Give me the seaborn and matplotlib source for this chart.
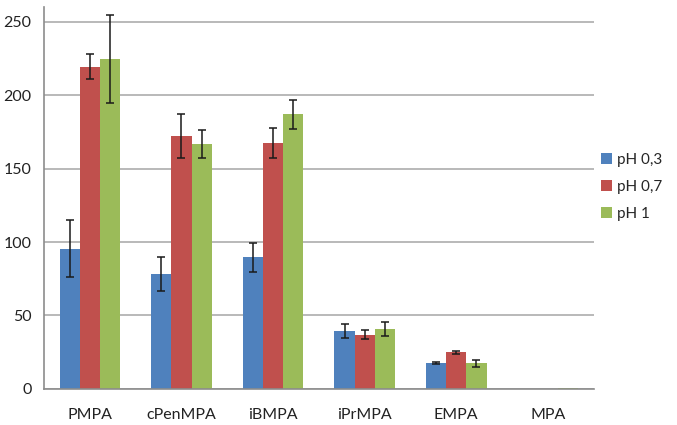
import numpy as np
import pandas as pd
import matplotlib
matplotlib.use("Agg")
import matplotlib.pyplot as plt
import seaborn as sns

categories = ["PMPA", "cPenMPA", "iBMPA", "iPrMPA", "EMPA", "MPA"]
series = ["pH 0,3", "pH 0,7", "pH 1"]
ph03 = [95.5, 78.5, 89.5, 39.5, 17.5, 0.0]
ph07 = [219.5, 172.5, 167.5, 37.0, 24.8, 0.0]
ph1 = [224.5, 167.0, 187.0, 40.8, 17.5, 0.8]
err03 = [19.5, 11.5, 10.0, 5.0, 0.7, 0.0]
err07 = [8.5, 15.0, 10.0, 3.0, 1.2, 0.0]
err1 = [30.0, 9.5, 10.0, 4.8, 2.5, 0.0]
colors = ["#4F81BD", "#C0504D", "#9BBB59"]

values = [ph03, ph07, ph1]
errors = [err03, err07, err1]
df = pd.DataFrame({
    "category": categories * 3,
    "series": [s for s in series for _ in categories],
    "value": ph03 + ph07 + ph1,
})

sns.set_style("white")
plt.rcParams["font.family"] = ["Lato", "DejaVu Sans"]

fig = plt.figure(figsize=(6.77, 4.25), dpi=100)
ax = fig.add_axes([0.065, 0.085, 0.812, 0.898])

sns.barplot(data=df, x="category", y="value", hue="series", order=categories,
            hue_order=series, palette=colors, width=0.66, errorbar=None,
            saturation=1, linewidth=0, ax=ax)

# error bars at the centre of each drawn bar
for cont, errs in zip(ax.containers, errors):
    for bar, e in zip(cont, errs):
        if e <= 0:
            continue
        x = bar.get_x() + bar.get_width() / 2
        ax.errorbar(x, bar.get_height(), yerr=e, fmt="none", ecolor="#1a1a1a",
                    elinewidth=1.1, capsize=3, capthick=1.1, zorder=5)

ax.set_ylim(0, 260)
ax.set_xlim(-0.5, len(categories) - 0.5)
ax.set_yticks([0, 50, 100, 150, 200, 250])
ax.yaxis.grid(True, color="#b3b3b3", linewidth=1.3)
ax.set_axisbelow(True)
ax.set_xlabel("")
ax.set_ylabel("")

for s in ["top", "right"]:
    ax.spines[s].set_visible(False)
for s in ["left", "bottom"]:
    ax.spines[s].set_color("#8c8c8c")
    ax.spines[s].set_linewidth(1.2)

ax.set_xticks(np.arange(len(categories)))
ax.set_xticklabels(categories, fontsize=11.5, color="#222222")
ax.tick_params(axis="x", length=0, pad=14)
ax.set_xticks(np.arange(len(categories) + 1) - 0.5, minor=True)
ax.tick_params(axis="x", which="minor", length=5, color="#8c8c8c", width=1.2)
ax.tick_params(axis="y", length=5, color="#8c8c8c", width=1.2,
               labelsize=11.5, labelcolor="#222222", pad=4)

handles, labels = ax.get_legend_handles_labels()
ax.legend(handles, labels, loc="center left", bbox_to_anchor=(1.0, 0.53),
          frameon=False, fontsize=11, handlelength=0.7, handleheight=0.7,
          handletextpad=0.35, labelspacing=0.85, borderaxespad=0.3,
          borderpad=0.2)

fig.savefig("out.png", dpi=100)
